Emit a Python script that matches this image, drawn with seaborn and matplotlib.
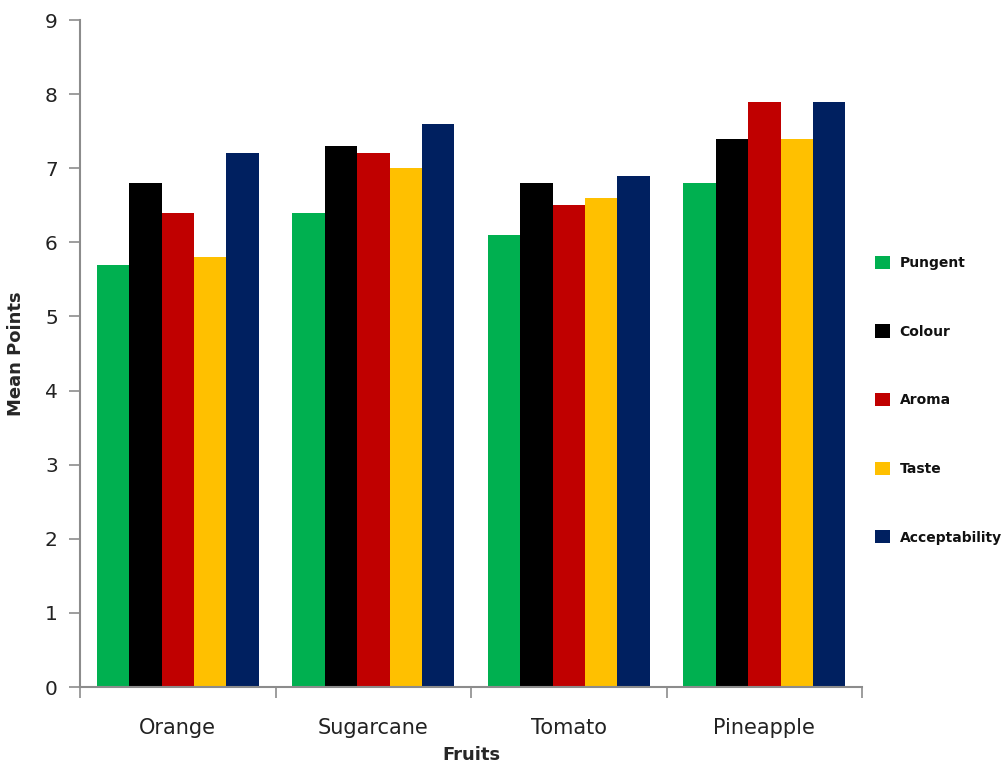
import matplotlib
matplotlib.use("Agg")
import matplotlib.pyplot as plt
import seaborn as sns
import pandas as pd
import numpy as np

# Sensory scores per fruit
fruits = ["Orange", "Sugarcane", "Tomato", "Pineapple"]
attributes = ["Pungent", "Colour", "Aroma", "Taste", "Acceptability"]
pungent = [5.7, 6.4, 6.1, 6.8]
colour = [6.8, 7.3, 6.8, 7.4]
aroma = [6.4, 7.2, 6.5, 7.9]
taste = [5.8, 7.0, 6.6, 7.4]
acceptability = [7.2, 7.6, 6.9, 7.9]
yticks = list(range(0, 10))

colors = ["#00B050", "#000000", "#C00000", "#FFC000", "#002060"]

rows = []
for attr, vals in zip(attributes, [pungent, colour, aroma, taste, acceptability]):
    for f, v in zip(fruits, vals):
        rows.append({"Fruits": f, "Attribute": attr, "Mean Points": v})
df = pd.DataFrame(rows)

sns.set_style("white")
plt.rcParams["font.family"] = ["DejaVu Sans"]

fig = plt.figure(figsize=(10.03, 7.67), dpi=100)
ax = fig.add_axes([0.0798, 0.1043, 0.7797, 0.8696])

sns.barplot(data=df, x="Fruits", y="Mean Points", hue="Attribute",
            order=fruits, hue_order=attributes, palette=colors,
            width=0.83, gap=0, saturation=1, errorbar=None, ax=ax,
            edgecolor="none")

ax.set_ylim(0, 9)
ax.set_xlim(-0.5, len(fruits) - 0.5)
ax.set_yticks(yticks)
ax.set_yticklabels([str(t) for t in yticks], fontsize=14.5, color="#222222")

# category boundaries carry the tick marks, labels sit at group centres
ax.set_xticks(np.arange(-0.5, len(fruits) + 0.5, 1.0))
ax.set_xticklabels([])
ax.set_xticks(np.arange(len(fruits)), minor=True)
ax.set_xticklabels(fruits, minor=True, fontsize=15, color="#222222")
ax.tick_params(axis="x", which="minor", bottom=True, length=0, pad=22)
ax.tick_params(axis="x", which="major", bottom=True, direction="out",
               length=8, width=1.2, color="#8c8c8c")
ax.tick_params(axis="y", direction="out", length=8, width=1.2,
               color="#8c8c8c", pad=8, left=True)

for side in ["top", "right"]:
    ax.spines[side].set_visible(False)
for side in ["left", "bottom"]:
    ax.spines[side].set_color("#8c8c8c")
    ax.spines[side].set_linewidth(1.5)

ax.set_xlabel("Fruits", fontsize=13, fontweight="bold", labelpad=6)
ax.set_ylabel("Mean Points", fontsize=13, fontweight="bold", labelpad=14)

leg = ax.legend(loc="center left", bbox_to_anchor=(1.0, 0.43), frameon=False,
                handlelength=1.1, handleheight=1.1, handletextpad=0.7,
                labelspacing=3.9, prop={"weight": "bold", "size": 10})
for t in leg.get_texts():
    t.set_color("#111111")

fig.savefig("out.png", dpi=100)
